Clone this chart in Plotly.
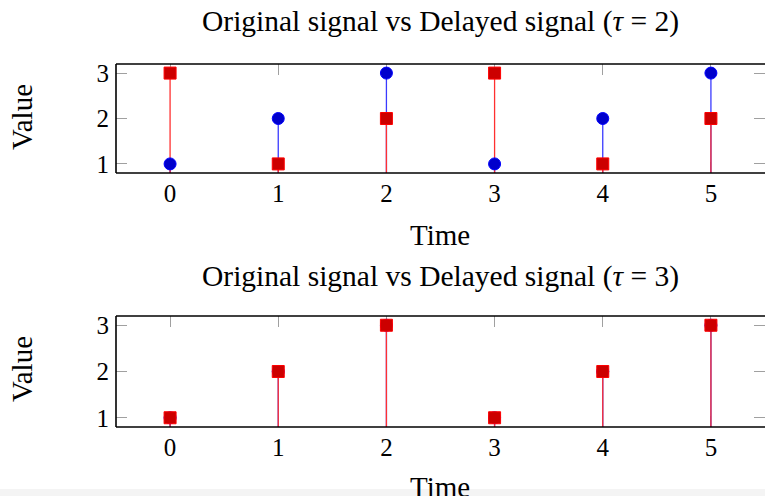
import plotly.graph_objects as go
from plotly.subplots import make_subplots

# Sample times and signal values
time = [0, 1, 2, 3, 4, 5]
original = [1, 2, 3, 1, 2, 3]
delayed_tau2 = [3, 1, 2, 3, 1, 2]
delayed_tau3 = [1, 2, 3, 1, 2, 3]

titles = ["Original signal vs Delayed signal (<i>τ</i> = 2)",
          "Original signal vs Delayed signal (<i>τ</i> = 3)"]
x_ticks = [0, 1, 2, 3, 4, 5]
y_ticks = [1, 2, 3]

W, H = 765, 496
FONT = "Liberation Serif"
BLUE_FILL, BLUE_LINE = "#0000cc", "#3a3aff"
RED_FILL, RED_LINE = "#cc0000", "#ff3030"


def stems(xs, ys):
    sx, sy = [], []
    for x, y in zip(xs, ys):
        sx += [x, x, None]
        sy += [0, y, None]
    return sx, sy


fig = make_subplots(rows=2, cols=1)

panels = [(original, delayed_tau2), (original, delayed_tau3)]
for r, (orig, dly) in enumerate(panels, start=1):
    bx, by = stems(time, orig)
    rx, ry = stems(time, dly)
    fig.add_trace(go.Scatter(x=bx, y=by, mode="lines",
                             line=dict(color=BLUE_LINE, width=1.3),
                             hoverinfo="skip", showlegend=False), row=r, col=1)
    fig.add_trace(go.Scatter(x=rx, y=ry, mode="lines",
                             line=dict(color=RED_LINE, width=1.3),
                             hoverinfo="skip", showlegend=False), row=r, col=1)
    fig.add_trace(go.Scatter(x=time, y=orig, mode="markers", name="Original",
                             marker=dict(symbol="circle", size=12, color=BLUE_FILL,
                                         line=dict(color="#0000ff", width=1)),
                             showlegend=False), row=r, col=1)
    fig.add_trace(go.Scatter(x=time, y=dly, mode="markers", name="Delayed",
                             marker=dict(symbol="square", size=12, color=RED_FILL,
                                         line=dict(color="#ff0000", width=1)),
                             showlegend=False), row=r, col=1)


def yfrac(px):
    return 1 - px / H


x0 = 116 / W
domains = [(yfrac(173), yfrac(64)), (yfrac(427), yfrac(316))]

for i, (d0, d1) in enumerate(domains, start=1):
    xa = "xaxis" if i == 1 else f"xaxis{i}"
    ya = "yaxis" if i == 1 else f"yaxis{i}"
    fig.layout[xa].update(domain=[x0, 1], range=[-0.5, 5.5],
                          tickvals=x_ticks, ticks="inside", ticklen=11,
                          tickcolor="#a0a0a0", tickwidth=1, mirror="ticks",
                          showline=False, showgrid=False, zeroline=False,
                          layer="below traces",
                          tickfont=dict(family=FONT, size=25, color="black"),
                          ticklabelstandoff=3, automargin=False)
    fig.layout[ya].update(domain=[d0, d1], range=[0.8, 3.2],
                          tickvals=y_ticks, ticks="inside", ticklen=11,
                          tickcolor="#a0a0a0", tickwidth=1, mirror="ticks",
                          showline=False, showgrid=False, zeroline=False,
                          layer="below traces",
                          tickfont=dict(family=FONT, size=25, color="black"),
                          ticklabelstandoff=6, automargin=False)

shapes = []
# axis frame (left, top, bottom edges)
for top_px, bot_px in [(64, 173), (316, 427)]:
    for x_a, y_a, x_b, y_b in [(x0, yfrac(top_px), x0, yfrac(bot_px)),
                               (x0, yfrac(top_px), 1.01, yfrac(top_px)),
                               (x0, yfrac(bot_px), 1.01, yfrac(bot_px))]:
        shapes.append(dict(type="line", xref="paper", yref="paper",
                           x0=x_a, y0=y_a, x1=x_b, y1=y_b,
                           line=dict(color="black", width=1.6), layer="above"))
# light band along the bottom edge of the page
shapes.append(dict(type="rect", xref="paper", yref="paper",
                   x0=0, x1=1, y0=0, y1=yfrac(489),
                   fillcolor="#f4f4f4", line=dict(width=0), layer="below"))

ann = []
xc = (116 + 765) / 2 / W
for title, ty in zip(titles, [22, 276]):
    ann.append(dict(text=title, x=xc, y=yfrac(ty), xref="paper", yref="paper",
                    showarrow=False, xanchor="center", yanchor="middle",
                    font=dict(family=FONT, size=29.5, color="black")))
for ty in [235, 487]:
    ann.append(dict(text="Time", x=xc, y=yfrac(ty), xref="paper", yref="paper",
                    showarrow=False, xanchor="center", yanchor="middle",
                    font=dict(family=FONT, size=29, color="black")))
for vy in [117, 369]:
    ann.append(dict(text="Value", x=22 / W, y=yfrac(vy), xref="paper", yref="paper",
                    showarrow=False, xanchor="center", yanchor="middle", textangle=-90,
                    font=dict(family=FONT, size=29, color="black")))

fig.update_layout(width=W, height=H, margin=dict(l=0, r=0, t=0, b=0),
                  paper_bgcolor="white", plot_bgcolor="white",
                  shapes=shapes, annotations=ann)

fig.write_html("out.html")
